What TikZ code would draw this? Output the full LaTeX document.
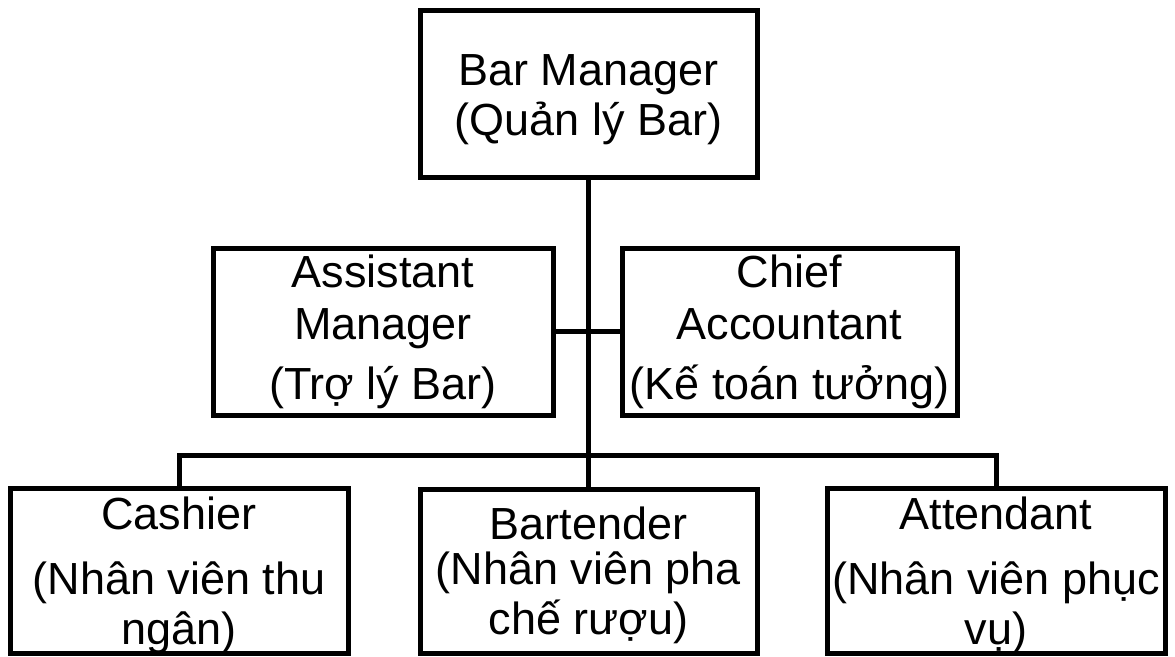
\documentclass[tikz,border=0pt]{standalone}
\usepackage{fontspec}
\setmainfont{Liberation Sans}
\usetikzlibrary{positioning}
\newcommand{\padtop}[1]{\rule{0pt}{#1}}

\begin{document}
\begin{tikzpicture}[x=1pt,y=-1pt,line width=5pt]
	\tikzstyle{box}=[draw, rectangle, align=center, inner sep=0pt, font=\fontsize{45}{50}\selectfont]
	\useasboundingbox (0,0) rectangle (1175,656);
	\node[box, minimum width=337pt, minimum height=167pt] (mgr) at (588.5,93.5) {\padtop{43pt}Bar Manager\\(Quản lý Bar)};
	\node[box, minimum width=340pt, minimum height=167pt] (asst) at (383,331.5) {Assistant\\[2pt]Manager\\[10pt](Trợ lý Bar)};
	\node[box, minimum width=335pt, minimum height=167pt] (chief) at (789.5,331.5) {Chief\\[2pt]Accountant\\[10pt](Kế toán tưởng)};
	\node[box, minimum width=338pt, minimum height=164pt] (cash) at (179,571) {\padtop{41pt}Cashier\\[15pt](Nhân viên thu\\ngân)};
	\node[box, minimum width=337pt, minimum height=164pt] (bart) at (588.5,571) {\padtop{41pt}Bartender\\[-5pt](Nhân viên pha\\chế rượu)};
	\node[box, minimum width=338pt, minimum height=164pt] (att) at (996,571) {\padtop{41pt}Attendant\\[15pt](Nhân viên phục\\vụ)};
	\coordinate (bus) at (588.5,455);
	\draw (mgr.south) -- (bus);
	\draw (asst.east) -- (chief.west);
	\draw (cash.north) |- (bus) -| (att.north);
	\draw (bus) -- (bart.north);
\end{tikzpicture}
\end{document}
